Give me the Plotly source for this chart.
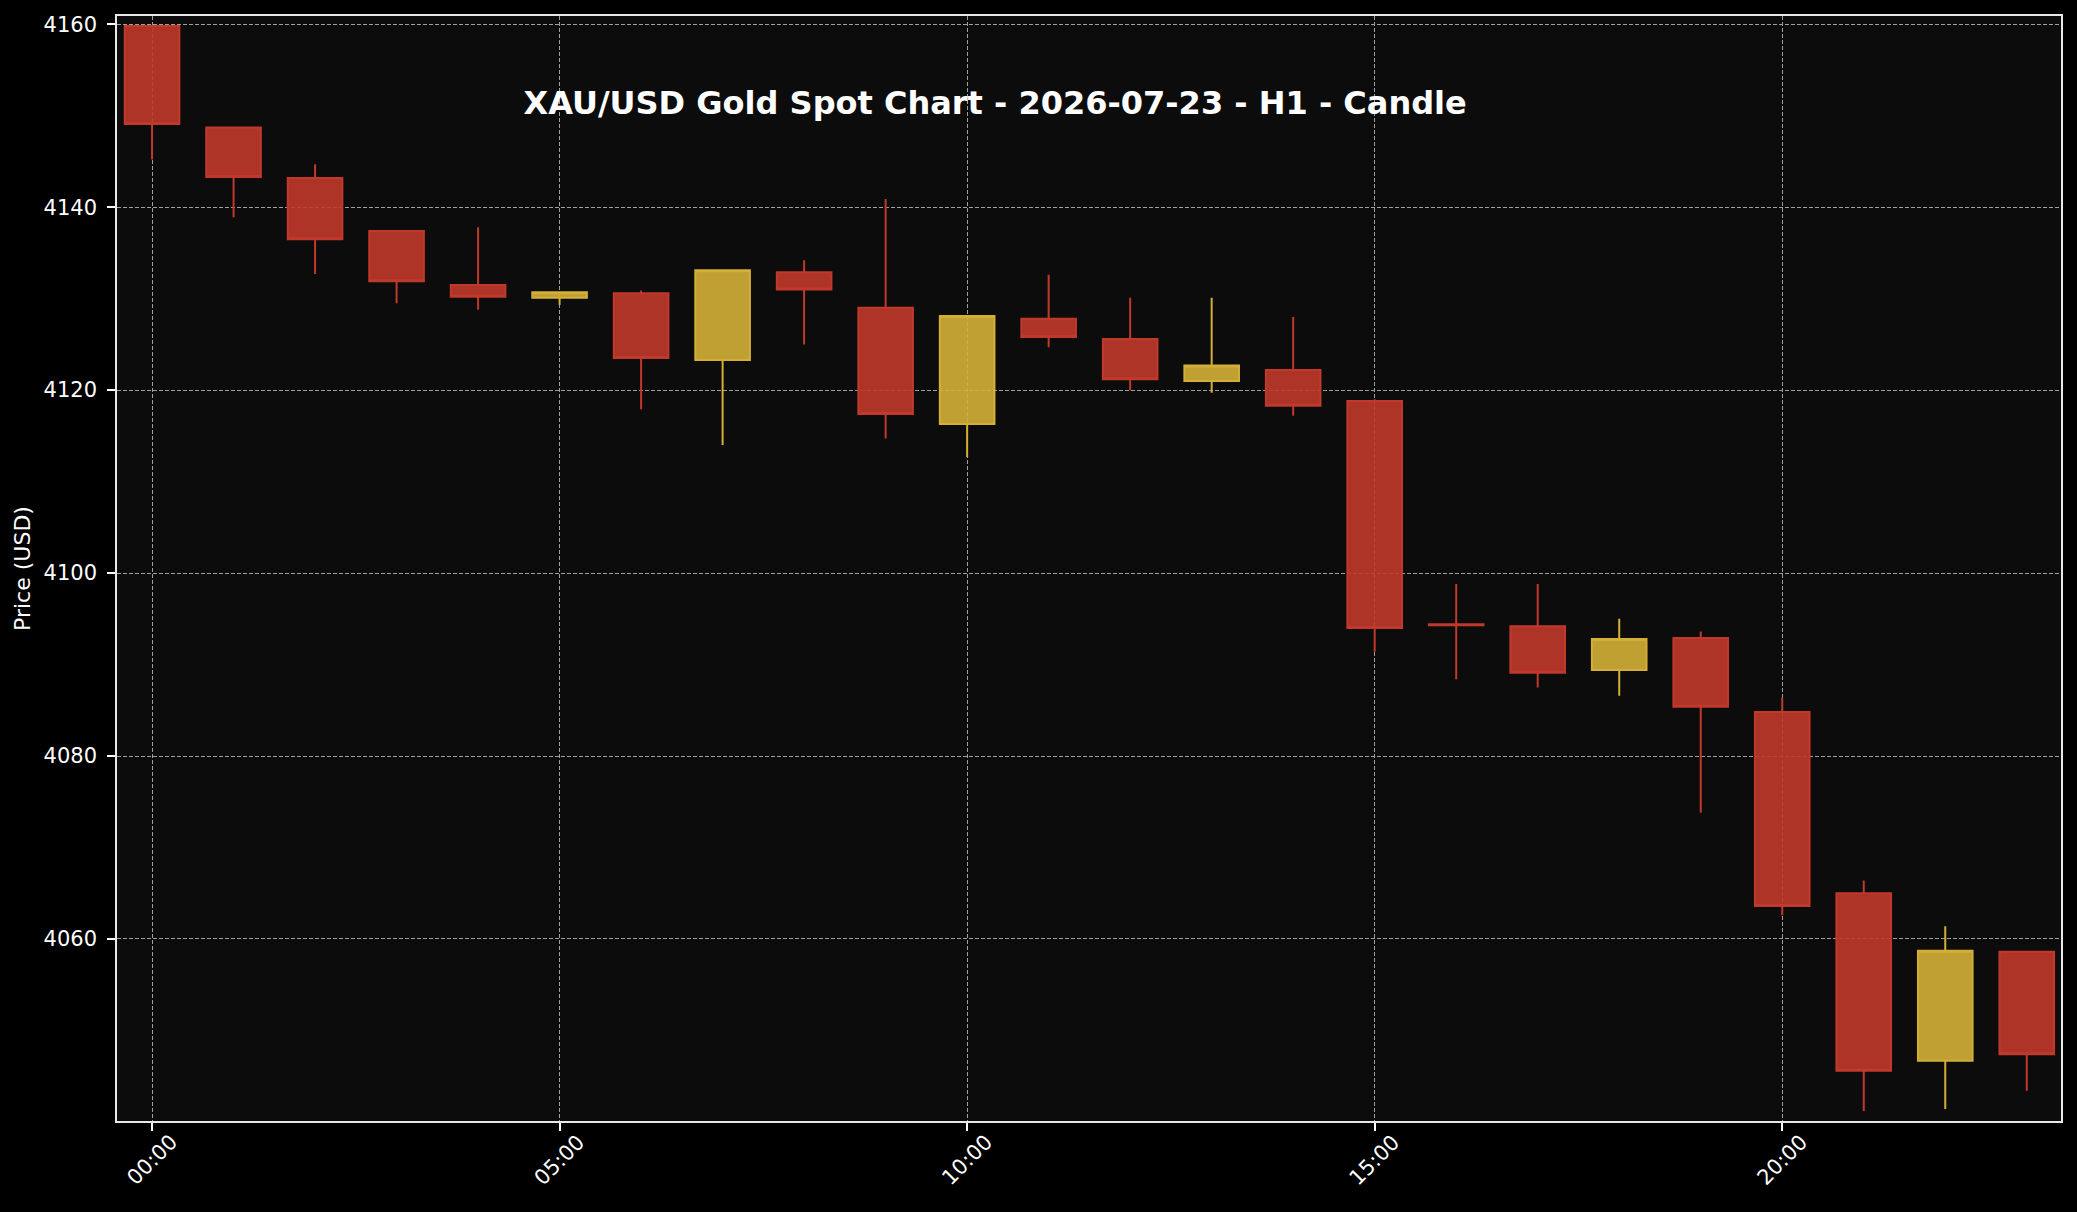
import plotly.graph_objects as go

# ---- data ----
hours = list(range(24))
open_ = [4159.8, 4148.7, 4143.2, 4137.4, 4131.5, 4130.1, 4130.6, 4123.3,
         4132.9, 4129.0, 4116.3, 4127.8, 4125.6, 4121.0, 4122.2, 4118.8,
         4094.4, 4094.2, 4089.4, 4092.9, 4084.8, 4065.0, 4046.7, 4058.6]
high = [4159.9, 4148.8, 4144.7, 4137.5, 4137.8, 4130.8, 4130.9, 4133.2,
        4134.2, 4140.9, 4128.2, 4132.6, 4130.1, 4130.1, 4128.0, 4119.0,
        4098.8, 4098.8, 4095.0, 4093.6, 4086.4, 4066.4, 4061.4, 4058.7]
low = [4145.2, 4138.9, 4132.7, 4129.5, 4128.8, 4129.3, 4117.9, 4114.0,
       4125.0, 4114.7, 4112.7, 4124.7, 4120.0, 4119.7, 4117.2, 4091.4,
       4088.4, 4087.5, 4086.6, 4073.8, 4062.6, 4041.2, 4041.4, 4043.4]
close = [4149.1, 4143.3, 4136.5, 4131.9, 4130.2, 4130.7, 4123.5, 4133.1,
         4131.0, 4117.4, 4128.1, 4125.8, 4121.2, 4122.7, 4118.3, 4094.0,
         4094.3, 4089.1, 4092.8, 4085.4, 4063.6, 4045.6, 4058.7, 4047.4]

x_tick_vals = [0, 5, 10, 15, 20]
x_tick_text = ["00:00", "05:00", "10:00", "15:00", "20:00"]
y_tick_vals = [4060, 4080, 4100, 4120, 4140, 4160]

title_text = "XAU/USD Gold Spot Chart - 2026-07-23 - H1 - Candle"
y_title = "Price (USD)"

FONT = "DejaVu Sans"
GRID = "#a0a0a0"

fig = go.Figure()
fig.add_trace(go.Candlestick(
    x=hours, open=open_, high=high, low=low, close=close,
    increasing=dict(line=dict(color="#d4af37", width=2),
                    fillcolor="rgba(212,175,55,0.9)"),
    decreasing=dict(line=dict(color="#c0392b", width=2),
                    fillcolor="rgba(192,57,43,0.9)"),
    whiskerwidth=0,
    showlegend=False,
    hoverinfo="skip",
))

for v, t in zip(x_tick_vals, x_tick_text):
    fig.add_annotation(
        x=v, xref="x", y=0, yref="paper",
        text=t, showarrow=False, textangle=-45,
        xanchor="center", yanchor="top", yshift=-6,
        font=dict(family=FONT, size=21, color="white"),
    )

fig.update_layout(
    width=2077, height=1212, autosize=False,
    paper_bgcolor="#000000", plot_bgcolor="#0c0c0c",
    margin=dict(l=117, r=16, t=16, b=91, pad=0),
    boxgap=0.33, boxgroupgap=0,
    font=dict(family=FONT, size=21, color="white"),
    title=dict(text="<b>" + title_text + "</b>",
               x=0.4517, xref="paper", xanchor="center",
               y=0.921, yref="paper", yanchor="middle",
               font=dict(family=FONT, size=32, color="white")),
    xaxis=dict(
        range=[-0.43, 23.42], tickvals=x_tick_vals, ticktext=x_tick_text,
        showticklabels=False, ticks="outside", ticklen=8, tickwidth=1.5,
        tickcolor="white",
        showgrid=True, gridcolor=GRID, gridwidth=1.3, griddash="4px,2px",
        showline=True, linecolor="#e8e8e8", linewidth=1.5, mirror=True,
        zeroline=False, rangeslider=dict(visible=False),
    ),
    yaxis=dict(
        range=[4040.1, 4160.9], tickvals=y_tick_vals,
        ticks="outside", ticklen=8, tickwidth=1.5, tickcolor="white",
        ticklabelstandoff=6,
        tickfont=dict(family=FONT, size=21, color="white"),
        showgrid=True, gridcolor=GRID, gridwidth=1.3, griddash="4px,2px",
        showline=True, linecolor="#e8e8e8", linewidth=1.5, mirror=True,
        zeroline=False,
        title=dict(text=y_title, standoff=7,
                   font=dict(family=FONT, size=22, color="white")),
    ),
)

fig.write_html("out.html")
